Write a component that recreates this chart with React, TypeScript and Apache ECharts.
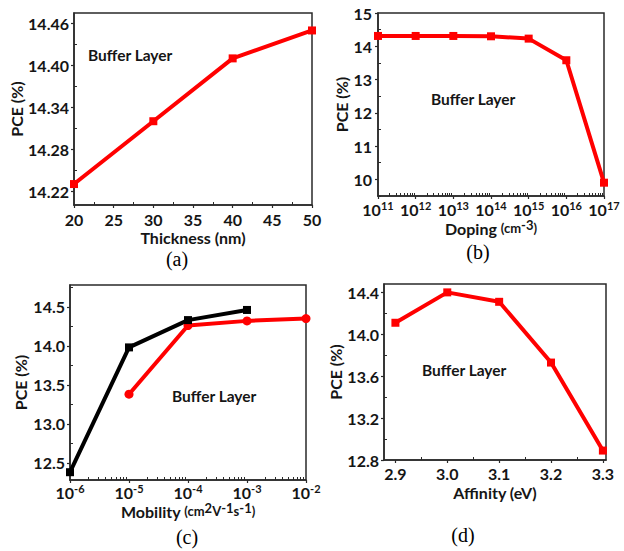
import React, { useEffect, useRef } from "react";
import * as echarts from "echarts";

// ---- data ----
const thickness = [20, 30, 40, 50];
const pceThickness = [14.23, 14.32, 14.41, 14.45];

const doping = [1e11, 1e12, 1e13, 1e14, 1e15, 1e16, 1e17];
const pceDoping = [14.31, 14.31, 14.31, 14.3, 14.23, 13.58, 9.9];

const mobilityRed = [1e-5, 1e-4, 1e-3, 1e-2];
const pceMobilityRed = [13.38, 14.26, 14.32, 14.35];
const mobilityBlack = [1e-6, 1e-5, 1e-4, 1e-3];
const pceMobilityBlack = [12.38, 13.98, 14.33, 14.46];

const affinity = [2.9, 3.0, 3.1, 3.2, 3.3];
const pceAffinity = [14.11, 14.4, 14.31, 13.73, 12.89];

// ---- tick labels ----
const ticksAx = [20, 25, 30, 35, 40, 45, 50];
const ticksAy = [14.22, 14.28, 14.34, 14.4, 14.46];
const ticksBx = [1e11, 1e12, 1e13, 1e14, 1e15, 1e16, 1e17];
const ticksBy = [10, 11, 12, 13, 14, 15];
const ticksCx = [1e-6, 1e-5, 1e-4, 1e-3, 1e-2];
const ticksCy = [12.5, 13.0, 13.5, 14.0, 14.5];
const ticksDx = [2.9, 3.0, 3.1, 3.2, 3.3];
const ticksDy = [12.8, 13.2, 13.6, 14.0, 14.4];

const RED = "#ff0000";
const INK = "#151515";
const FONT = "Lato";

function midTicks(majors: number[], min: number, max: number): number[] {
  const out: number[] = [];
  const step = majors[1] - majors[0];
  for (let i = -1; i < majors.length; i++) {
    const v = majors[0] + (i + 0.5) * step;
    if (v >= min - 1e-9 && v <= max + 1e-9) out.push(v);
  }
  return out;
}
function logMinor(majors: number[]): number[] {
  const out: number[] = [];
  for (let i = 0; i < majors.length - 1; i++) {
    for (let k = 2; k <= 9; k++) out.push(majors[i] * k);
  }
  return out;
}

const labelBase = {
  color: INK,
  fontFamily: FONT,
  fontWeight: "bold" as const,
  fontSize: 16,
  lineHeight: 16,
};

const nameBase = {
  color: INK,
  fontFamily: FONT,
  fontWeight: "bold" as const,
  fontSize: 16,
  lineHeight: 16,
};

function makeAxes(opts: {
  grid: number;
  type: "value" | "log";
  min: number;
  max: number;
  majors: number[];
  minors: number[];
  fmt: (v: number) => string;
  name: string;
  nameGap: number;
  position: "left" | "bottom";
  rich?: any;
  nameRich?: any;
  margin: number;
}) {
  const common: any = {
    type: opts.type,
    gridIndex: opts.grid,
    min: opts.min,
    max: opts.max,
    position: opts.position,
    splitLine: { show: false },
  };
  if (opts.type === "log") common.logBase = 10;
  const main = {
    ...common,
    axisLine: { show: true, onZero: false, lineStyle: { color: "#2a2a2a", width: 1.5 } },
    axisTick: {
      show: true,
      inside: false,
      length: 3,
      customValues: opts.majors,
      lineStyle: { color: "#2a2a2a", width: 1.2 },
    },
    axisLabel: {
      ...labelBase,
      customValues: opts.majors,
      formatter: opts.fmt,
      margin: opts.margin,
      rich: opts.rich,
    },
    name: opts.name,
    nameLocation: "middle",
    nameGap: opts.nameGap,
    nameTextStyle: { ...nameBase, rich: opts.nameRich },
  };
  const minor = {
    ...common,
    axisLine: { show: false, onZero: false },
    axisTick: {
      show: true,
      inside: true,
      length: 3,
      customValues: opts.minors,
      lineStyle: { color: "#2a2a2a", width: 1 },
    },
    axisLabel: { show: false },
  };
  return [main, minor];
}

const supRich = {
  b: { ...labelBase },
  s: { ...labelBase, fontSize: 11, lineHeight: 11, padding: [0, 0, 7, 0] },
};
const nameRich = {
  n: { ...nameBase },
  m: { ...nameBase, fontSize: 13 },
  s: { ...nameBase, fontSize: 13, lineHeight: 12, padding: [0, 0, 6, 0] },
};
const logFmt = (v: number) => `{b|10}{s|${Math.round(Math.log10(v))}}`;

export default function App() {
  const ref = useRef<HTMLDivElement>(null);
  useEffect(() => {
    if (!ref.current) return;
    const chart = echarts.init(ref.current, undefined, { renderer: "svg" });

    const xA = makeAxes({
      grid: 0, type: "value", min: 20, max: 50, majors: ticksAx,
      minors: midTicks(ticksAx, 20, 50), fmt: (v) => String(Math.round(v)),
      name: "Thickness (nm)", nameGap: 24, position: "bottom", margin: 6,
    });
    const yA = makeAxes({
      grid: 0, type: "value", min: 14.2, max: 14.475, majors: ticksAy,
      minors: midTicks(ticksAy, 14.2, 14.475), fmt: (v) => v.toFixed(2),
      name: "PCE (%)", nameGap: 44, position: "left", margin: 5,
    });
    const xB = makeAxes({
      grid: 1, type: "log", min: 1e11, max: 1e17, majors: ticksBx,
      minors: logMinor(ticksBx), fmt: logFmt, rich: supRich,
      name: "{n|Doping }{m|(cm}{s|-3}{m|)}", nameRich, nameGap: 23, position: "bottom", margin: 5,
    });
    const yB = makeAxes({
      grid: 1, type: "value", min: 9.5, max: 15, majors: ticksBy,
      minors: midTicks(ticksBy, 9.5, 15), fmt: (v) => String(Math.round(v)),
      name: "PCE (%)", nameGap: 24, position: "left", margin: 6,
    });
    const xC = makeAxes({
      grid: 2, type: "log", min: 1e-6, max: 1e-2, majors: ticksCx,
      minors: logMinor(ticksCx), fmt: logFmt, rich: supRich,
      name: "{n|Mobility }{m|(cm}{s|2}{m|V}{s|-1}{m|s}{s|-1}{m|)}", nameRich, nameGap: 22,
      position: "bottom", margin: 4,
    });
    const yC = makeAxes({
      grid: 2, type: "value", min: 12.28, max: 14.78, majors: ticksCy,
      minors: midTicks(ticksCy, 12.28, 14.78), fmt: (v) => v.toFixed(1),
      name: "PCE (%)", nameGap: 42, position: "left", margin: 5,
    });
    const xD = makeAxes({
      grid: 3, type: "value", min: 2.878, max: 3.306, majors: ticksDx,
      minors: midTicks(ticksDx, 2.878, 3.306), fmt: (v) => v.toFixed(1),
      name: "Affinity (eV)", nameGap: 24, position: "bottom", margin: 5,
    });
    const yD = makeAxes({
      grid: 3, type: "value", min: 12.8, max: 14.48, majors: ticksDy,
      minors: midTicks(ticksDy, 12.8, 14.48), fmt: (v) => v.toFixed(1),
      name: "PCE (%)", nameGap: 27, position: "left", margin: 5,
    });

    const gridBase = { show: true, borderColor: "#2a2a2a", borderWidth: 1.5, backgroundColor: "transparent", containLabel: false };

    const zip = (xs: number[], ys: number[]) => xs.map((x, i) => [x, ys[i]]);
    const lineSeries = (xi: number, yi: number, data: number[][], color: string, symbol: string, size: number) => ({
      type: "line",
      xAxisIndex: xi,
      yAxisIndex: yi,
      data,
      symbol,
      symbolSize: size,
      showSymbol: true,
      lineStyle: { color, width: 4 },
      itemStyle: { color, borderWidth: 0 },
      clip: false,
    });

    const bufferText = (x: number, y: number) => ({
      type: "text",
      x,
      y,
      style: {
        text: "Buffer Layer",
        fill: INK,
        font: `bold 15.5px ${FONT}`,
        verticalAlign: "middle",
      },
    });
    const panelText = (x: number, y: number, t: string) => ({
      type: "text",
      x,
      y,
      style: {
        text: t,
        fill: "#000",
        font: `20px "Liberation Serif"`,
        align: "center",
        verticalAlign: "middle",
      },
    });

    chart.setOption({
      animation: false,
      backgroundColor: "#fff",
      grid: [
        { ...gridBase, left: 74, top: 13, width: 238, height: 192 },
        { ...gridBase, left: 378, top: 13, width: 226, height: 183 },
        { ...gridBase, left: 70, top: 285, width: 236, height: 195 },
        { ...gridBase, left: 384, top: 284, width: 222, height: 176 },
      ],
      xAxis: [...xA, ...xB, ...xC, ...xD],
      yAxis: [...yA, ...yB, ...yC, ...yD],
      series: [
        lineSeries(0, 0, zip(thickness, pceThickness), RED, "rect", 8),
        lineSeries(2, 2, zip(doping, pceDoping), RED, "rect", 8),
        lineSeries(4, 4, zip(mobilityRed, pceMobilityRed), RED, "circle", 9),
        lineSeries(4, 4, zip(mobilityBlack, pceMobilityBlack), "#000", "rect", 8),
        lineSeries(6, 6, zip(affinity, pceAffinity), RED, "rect", 8),
      ],
      graphic: [
        bufferText(88, 55),
        bufferText(431, 99),
        bufferText(172, 396),
        bufferText(422, 370),
        panelText(177, 259, "(a)"),
        panelText(478, 252, "(b)"),
        panelText(187, 537, "(c)"),
        panelText(463, 535, "(d)"),
      ],
    });
    return () => chart.dispose();
  }, []);
  return (
    <div
      ref={ref}
      style={{ position: "absolute", left: 0, top: 0, width: 624, height: 551, background: "#fff" }}
    />
  );
}
